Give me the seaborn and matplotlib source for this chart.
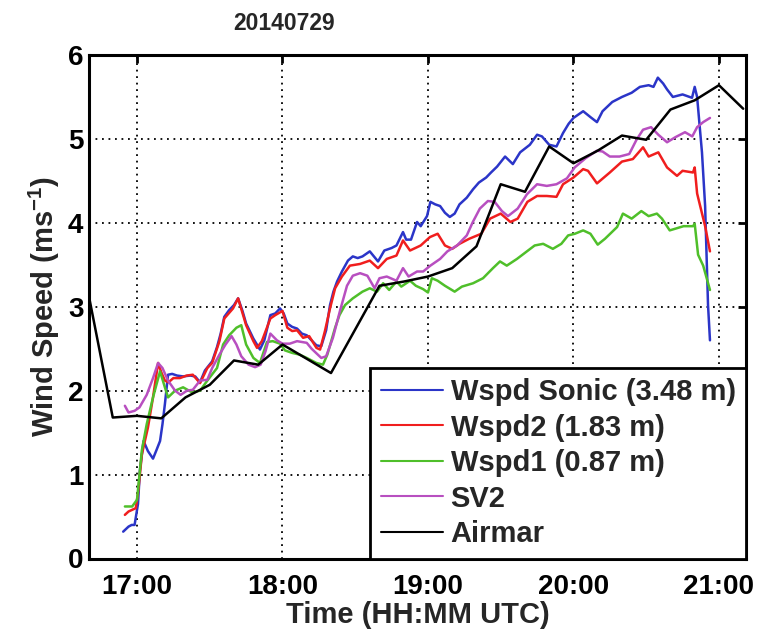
import matplotlib
matplotlib.use("Agg")
import matplotlib.pyplot as plt
import seaborn as sns
import pandas as pd
from matplotlib.ticker import FixedLocator, FuncFormatter

# ---------------- data (time in minutes after 17:00 UTC) ----------------
sonic_t = [-5.7, -3.5, -2.2, -1, 0.4, 1.2, 2.7, 4.5, 6.6, 8.0, 9.5, 10.5, 11.5, 12.8, 14.5, 16.5,
           19, 22, 24, 26, 28, 31, 33, 34.5, 36, 38, 40, 41.7, 43.5, 45, 48, 50.7, 52.5, 55, 57,
           59, 60.5, 62, 64, 66, 68, 70, 72, 74, 76, 78, 79.6, 81, 82.5, 84.5, 87, 89, 91, 93, 96,
           99.4, 102, 105, 107, 109.7, 111, 113, 115.5, 117, 119.6, 121, 123, 125, 127, 129, 131,
           133, 136, 138.6, 141, 144, 146, 148.5, 151.8, 155, 158, 162, 165, 167, 170, 173, 175.7,
           178, 180, 184, 187, 189.7, 192, 196, 200, 204, 207.4, 211, 213, 214.8, 217, 218.6, 221,
           225, 228.9, 230, 231, 233, 234.3, 235.5, 236.3]
sonic_v = [0.32, 0.38, 0.40, 0.40, 0.65, 1.05, 1.40, 1.28, 1.19, 1.29, 1.40, 1.60, 1.84, 2.19, 2.20, 2.18,
           2.17, 2.18, 2.17, 2.10, 2.24, 2.35, 2.52, 2.68, 2.88, 2.96, 3.02, 3.10, 2.95, 2.80, 2.62, 2.49,
           2.60, 2.90, 2.92, 2.98, 2.92, 2.80, 2.76, 2.74, 2.68, 2.66, 2.60, 2.54, 2.53, 2.72, 3.02, 3.18,
           3.30, 3.42, 3.55, 3.60, 3.58, 3.60, 3.66, 3.54, 3.67, 3.70, 3.73, 3.89, 3.80, 3.80, 4.01, 3.96,
           4.08, 4.25, 4.22, 4.20, 4.12, 4.07, 4.11, 4.22, 4.30, 4.40, 4.48, 4.54, 4.60, 4.67, 4.79, 4.70,
           4.84, 4.93, 5.05, 5.03, 4.93, 4.91, 5.07, 5.18, 5.25, 5.33, 5.26, 5.20, 5.33, 5.44, 5.50, 5.55,
           5.62, 5.64, 5.62, 5.73, 5.66, 5.59, 5.50, 5.53, 5.49, 5.62, 5.50, 4.84, 4.20, 3.02, 2.60]

wspd2_t = [-5, -3.5, -2, -0.5, 0.5, 2, 4.5, 6.6, 8.7, 10, 11.5, 13, 15, 17.7, 20.5, 23, 26, 29, 31, 34,
           36, 39.6, 41.7, 45, 48, 49.5, 51.5, 55, 57, 60, 62, 64, 66, 68.5, 71, 74, 75.5, 77.5, 79.6,
           81.7, 84.5, 87.8, 92, 96, 99.4, 103, 107, 109.7, 112.6, 117, 120.8, 124, 127, 130, 133, 137,
           142, 145.6, 150, 154, 157, 161, 165, 169, 173, 175.7, 180, 184, 186, 189.7, 195, 200, 204.5,
           208.7, 211, 215, 218.6, 222.7, 225, 229.3, 230, 231, 234.3, 236.3]
wspd2_v = [0.52, 0.56, 0.58, 0.60, 0.80, 1.24, 1.56, 1.92, 2.33, 2.22, 2.12, 2.10, 2.15, 2.15, 2.18, 2.19,
           2.09, 2.27, 2.33, 2.59, 2.86, 2.98, 3.10, 2.78, 2.59, 2.51, 2.59, 2.86, 2.90, 2.95, 2.75, 2.71,
           2.72, 2.63, 2.65, 2.51, 2.49, 2.71, 2.98, 3.22, 3.36, 3.49, 3.51, 3.55, 3.46, 3.57, 3.61, 3.79,
           3.67, 3.73, 3.83, 3.87, 3.73, 3.69, 3.75, 3.81, 3.87, 4.05, 4.11, 4.01, 4.05, 4.25, 4.32, 4.32,
           4.31, 4.46, 4.54, 4.64, 4.62, 4.47, 4.60, 4.73, 4.76, 4.90, 4.79, 4.84, 4.66, 4.56, 4.62, 4.60,
           4.66, 4.35, 3.96, 3.66]

wspd1_t = [-5, -2, 0, 2, 4, 6.6, 9.5, 11.5, 12.8, 15.7, 19, 22.7, 26, 29, 33, 35.5, 38, 41, 43, 45, 48,
           50.7, 53.6, 56, 59, 61, 64, 67, 70, 74, 76.7, 78.5, 81.7, 83.5, 85.8, 89, 93, 96, 99, 101.5,
           104, 107, 109, 112.6, 115, 118, 120, 121.6, 124, 127, 131, 134, 138.6, 142.7, 146.8, 149.7,
           152.5, 156.7, 160.8, 164, 167.5, 171.5, 175, 177.8, 180.6, 184, 187, 190, 193, 198, 200.4,
           204, 208, 211, 214.4, 216.5, 219.7, 222, 225.4, 229.3, 230, 231.4, 233.5, 236.3]
wspd1_v = [0.62, 0.62, 0.70, 1.29, 1.60, 1.92, 2.23, 2.04, 1.92, 2.00, 2.04, 1.98, 2.00, 2.12, 2.27, 2.55,
           2.66, 2.75, 2.78, 2.55, 2.39, 2.33, 2.58, 2.59, 2.56, 2.48, 2.45, 2.43, 2.39, 2.33, 2.31, 2.43,
           2.75, 2.90, 3.02, 3.10, 3.18, 3.22, 3.18, 3.28, 3.20, 3.30, 3.24, 3.31, 3.25, 3.21, 3.17, 3.34,
           3.31, 3.25, 3.18, 3.24, 3.28, 3.34, 3.46, 3.54, 3.49, 3.57, 3.66, 3.73, 3.75, 3.69, 3.75, 3.85,
           3.87, 3.91, 3.87, 3.74, 3.81, 3.95, 4.11, 4.05, 4.14, 4.08, 4.11, 4.05, 3.91, 3.93, 3.96, 3.96,
           3.99, 3.62, 3.49, 3.20]

sv2_t = [-5, -3.5, -1, 1, 4, 6.6, 8.7, 10.5, 12.8, 15.7, 18, 20.6, 23, 26, 29, 31, 34, 36.5, 39, 41, 43,
         46, 48.7, 51, 53, 55, 57.7, 60, 63, 66, 70, 72, 76, 78, 80.8, 83.7, 86.6, 89, 92, 95, 98, 100,
         103, 107, 109.7, 112, 115.5, 118, 121, 125, 128, 132, 136, 138.5, 141.4, 144.7, 147.5, 150.5,
         153, 157, 160.8, 165, 169, 173, 177.3, 180.5, 185, 189.7, 192, 195, 199, 203, 206, 208.7, 212,
         215, 218.6, 222, 226, 229, 231, 233.5, 236.3]
sv2_v = [1.82, 1.74, 1.76, 1.80, 1.95, 2.15, 2.33, 2.27, 2.12, 2.00, 1.95, 2.00, 2.01, 2.12, 2.13, 2.27,
         2.43, 2.55, 2.65, 2.55, 2.41, 2.31, 2.28, 2.31, 2.47, 2.68, 2.60, 2.56, 2.56, 2.59, 2.57, 2.50,
         2.39, 2.41, 2.63, 2.95, 3.25, 3.37, 3.40, 3.37, 3.22, 3.34, 3.36, 3.31, 3.46, 3.36, 3.42, 3.42,
         3.49, 3.57, 3.66, 3.73, 3.85, 4.01, 4.17, 4.26, 4.25, 4.14, 4.08, 4.17, 4.34, 4.46, 4.44, 4.46,
         4.53, 4.66, 4.77, 4.86, 4.85, 4.79, 4.79, 4.82, 4.99, 5.11, 5.14, 5.05, 4.96, 5.02, 5.08, 5.03,
         5.14, 5.20, 5.25]

airmar_t = [-20, -10, 0, 10, 20, 30, 40, 50, 60, 70, 80, 90, 100, 110, 120, 130, 140, 150, 160, 170,
            180, 190, 200, 210, 220, 230, 240, 250]
airmar_v = [3.15, 1.68, 1.70, 1.67, 1.92, 2.07, 2.36, 2.31, 2.55, 2.38, 2.21, 2.73, 3.25, 3.30, 3.36,
            3.46, 3.72, 4.46, 4.37, 4.91, 4.71, 4.86, 5.04, 4.99, 5.35, 5.46, 5.64, 5.36]

labels = ["Wspd Sonic (3.48 m)", "Wspd2 (1.83 m)", "Wspd1 (0.87 m)", "SV2", "Airmar"]
colors = ["#2b35c8", "#f01e1e", "#4fbf2a", "#b84fc0", "#000000"]
title = "20140729"
x_ticks_h = [17, 18, 19, 20, 21]
y_ticks = [0, 1, 2, 3, 4, 5, 6]

# ---------------- style ----------------
sns.set_style("white")
plt.rcParams["font.family"] = ["Liberation Sans", "DejaVu Sans"]
plt.rcParams["font.weight"] = "bold"
plt.rcParams["mathtext.fontset"] = "custom"
plt.rcParams["mathtext.rm"] = "Liberation Sans:bold"
plt.rcParams["mathtext.bf"] = "Liberation Sans:bold"
plt.rcParams["mathtext.it"] = "Liberation Sans:bold"

fig = plt.figure(figsize=(7.65, 6.34), dpi=100)
ax = fig.add_axes([89 / 765, 1 - 558.5 / 634, (746 - 89) / 765, (558.5 - 55) / 634])

series = [(sonic_t, sonic_v), (wspd2_t, wspd2_v), (wspd1_t, wspd1_v), (sv2_t, sv2_v), (airmar_t, airmar_v)]
for (t, v), lab, col in zip(series, labels, colors):
    df = pd.DataFrame({"hour": [17 + m / 60 for m in t], "speed": v})
    sns.lineplot(data=df, x="hour", y="speed", color=col, label=lab, lw=1.8,
                 estimator=None, sort=False, ax=ax)

ax.set_xlim(16.670, 21.186)
ax.set_ylim(0, 6)
ax.xaxis.set_major_locator(FixedLocator(x_ticks_h))
ax.xaxis.set_major_formatter(FuncFormatter(lambda h, p: f"{int(round(h))}:00"))
ax.yaxis.set_major_locator(FixedLocator(y_ticks))
ax.grid(True, color="black", linestyle=(0, (1, 2.6)), linewidth=1.3)
for s in ax.spines.values():
    s.set_linewidth(2.2)
    s.set_color("black")
ax.tick_params(axis="both", which="major", direction="in", length=6, width=2,
               top=True, right=True, labelsize=20, colors="black")
ax.tick_params(axis="x", pad=11)
ax.tick_params(axis="y", pad=4)
for lbl in ax.get_xticklabels() + ax.get_yticklabels():
    lbl.set_fontweight("bold")

ax.set_xlabel("Time (HH:MM UTC)", fontsize=21, fontweight="bold", labelpad=1)
ax.set_ylabel(r"Wind Speed (ms$^{\mathbf{-1}}$)", fontsize=21, fontweight="bold", labelpad=4)
fig.text(284 / 765, 1 - 24 / 634, title, ha="center", va="center", fontsize=16.5,
         fontweight="bold")

leg = ax.legend(loc="lower right", borderaxespad=0, fancybox=False, framealpha=1,
                edgecolor="black", prop={"size": 21, "weight": "bold"},
                handlelength=2.15, handletextpad=0.25, labelspacing=0.26, borderpad=0.35)
leg.get_frame().set_linewidth(2)
for h in leg.get_lines():
    h.set_linewidth(1.5)

fig.savefig("out.png", dpi=100)
